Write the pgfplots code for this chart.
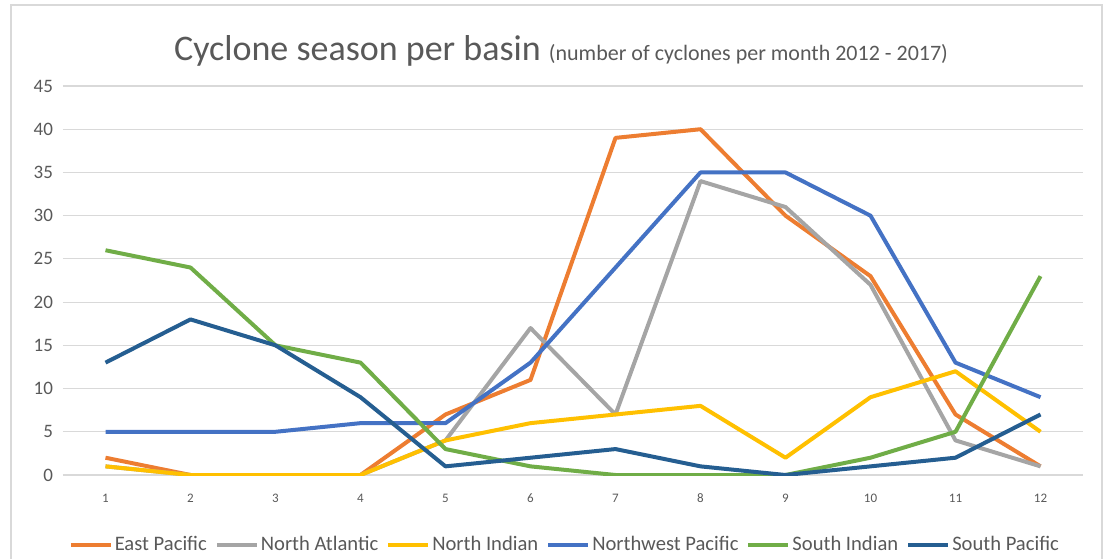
\documentclass[border=0pt]{standalone}
\usepackage{pgfplots}
\pgfplotsset{compat=1.18}
\usepackage{fontspec}
\setmainfont{Carlito}
\definecolor{txt}{HTML}{595959}
\definecolor{grd}{HTML}{D9D9D9}
\definecolor{cEP}{HTML}{ED7D31}
\definecolor{cNA}{HTML}{A5A5A5}
\definecolor{cNI}{HTML}{FFC000}
\definecolor{cNW}{HTML}{4472C4}
\definecolor{cSI}{HTML}{70AD47}
\definecolor{cSP}{HTML}{255E91}
\begin{document}
\begin{tikzpicture}
\path[use as bounding box] (-31.5pt,-41.5pt) rectangle (524pt,237.5pt);
\draw[grd,line width=0.6pt] (-26pt,-45pt) -- (-26pt,235pt) -- (519.5pt,235pt) -- (519.5pt,-45pt);
\begin{axis}[
  at={(0pt,0pt)}, anchor=origin,
  scale only axis, width=510pt, height=194.5pt,
  xmin=0.5, xmax=12.5, ymin=0, ymax=45,
  xtick={1,...,12}, ytick={0,5,...,45},
  ymajorgrids, grid style={grd, line width=0.6pt},
  axis line style={draw=none},
  major tick length=0pt,
  tick label style={text=txt},
  xticklabel style={font=\fontsize{6.5}{7}\selectfont, yshift=-6pt},
  yticklabel style={font=\fontsize{9.5}{10}\selectfont, xshift=-1.5pt},
  /pgf/number format/assume math mode=true,
  every axis plot/.append style={line width=2pt, line join=round, no markers},
  legend style={draw=none, fill=none, at={(0.492,-0.18)}, anchor=center,
    font=\fontsize{10.3}{11}\selectfont, text=txt, column sep=0pt,
    inner xsep=0pt, nodes={inner xsep=1pt},
    /tikz/every even column/.append style={column sep=3pt}},
  legend columns=6,
  legend image code/.code={\draw[#1] (0pt,0pt) -- (20pt,0pt);},
]
\addplot[cEP] coordinates {(1,2) (2,0) (3,0) (4,0) (5,7) (6,11) (7,39) (8,40) (9,30) (10,23) (11,7) (12,1)};
\addlegendentry{East Pacific}
\addplot[cNA] coordinates {(1,1) (2,0) (3,0) (4,0) (5,4) (6,17) (7,7) (8,34) (9,31) (10,22) (11,4) (12,1)};
\addlegendentry{North Atlantic}
\addplot[cNI] coordinates {(1,1) (2,0) (3,0) (4,0) (5,4) (6,6) (7,7) (8,8) (9,2) (10,9) (11,12) (12,5)};
\addlegendentry{North Indian}
\addplot[cNW] coordinates {(1,5) (2,5) (3,5) (4,6) (5,6) (6,13) (7,24) (8,35) (9,35) (10,30) (11,13) (12,9)};
\addlegendentry{Northwest Pacific}
\addplot[cSI] coordinates {(1,26) (2,24) (3,15) (4,13) (5,3) (6,1) (7,0) (8,0) (9,0) (10,2) (11,5) (12,23)};
\addlegendentry{South Indian}
\addplot[cSP] coordinates {(1,13) (2,18) (3,15) (4,9) (5,1) (6,2) (7,3) (8,1) (9,0) (10,1) (11,2) (12,7)};
\addlegendentry{South Pacific}
\end{axis}
\node[text=txt, anchor=base] at (249pt,207.5pt) {\fontsize{18}{20}\selectfont Cyclone season per basin \fontsize{11}{12}\selectfont(number of cyclones per month 2012 - 2017)};
\end{tikzpicture}
\end{document}
